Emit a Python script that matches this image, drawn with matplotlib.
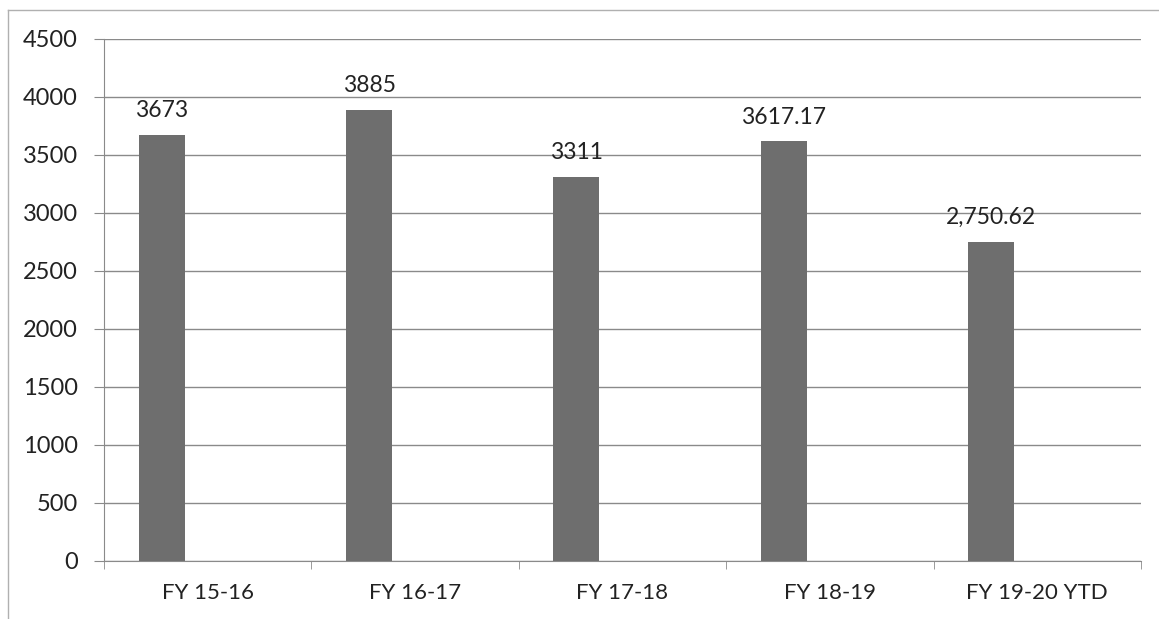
import matplotlib
matplotlib.use('Agg')
import matplotlib.pyplot as plt
from matplotlib.lines import Line2D
import numpy as np

# chart data
categories = ['FY 15-16', 'FY 16-17', 'FY 17-18', 'FY 18-19', 'FY 19-20 YTD']
values = [3673, 3885, 3311, 3617.17, 2750.62]
value_labels = ['3673', '3885', '3311', '3617.17', '2,750.62']
y_ticks = [0, 500, 1000, 1500, 2000, 2500, 3000, 3500, 4000, 4500]

plt.rcParams['font.family'] = ['Lato', 'DejaVu Sans']

fig = plt.figure(figsize=(11.59, 6.19), dpi=100)
ax = fig.add_axes([0.0897, 0.0937, 0.8948, 0.8433])

# frame edges of the scanned chart (only top and left show)
fig.lines.append(Line2D([0.007, 1.0], [0.984, 0.984], transform=fig.transFigure,
                        color='#b0b0b0', linewidth=1))
fig.lines.append(Line2D([0.007, 0.007], [0.0, 0.984], transform=fig.transFigure,
                        color='#b0b0b0', linewidth=1))

x = np.arange(len(categories))
bar_w = 0.222
ax.bar(x - bar_w, values, width=bar_w, color='#6e6e6e', zorder=3)

for xi, v, lab in zip(x, values, value_labels):
    ax.annotate(lab, (xi - bar_w, v), xytext=(0, 10), textcoords='offset points',
                ha='center', va='bottom', fontsize=16.5, color='#222222')

ax.set_xlim(-0.5, len(categories) - 0.5)
ax.set_ylim(0, 4500)
ax.set_yticks(y_ticks)
ax.tick_params(axis='y', labelsize=17, length=7, color='#8a8a8a', labelcolor='#222222', pad=12)

ax.set_xticks(x)
ax.set_xticklabels(categories)
ax.tick_params(axis='x', which='major', length=0, labelsize=16, labelcolor='#222222', pad=16)
ax.set_xticks(np.arange(-0.5, len(categories)), minor=True)
ax.tick_params(axis='x', which='minor', length=6, color='#8a8a8a', direction='out')

ax.yaxis.grid(True, color='#8a8a8a', linewidth=1, zorder=0)
ax.set_axisbelow(True)
for side in ['top', 'right']:
    ax.spines[side].set_visible(False)
for side in ['left', 'bottom']:
    ax.spines[side].set_color('#8a8a8a')

fig.savefig('out.png', dpi=100)
